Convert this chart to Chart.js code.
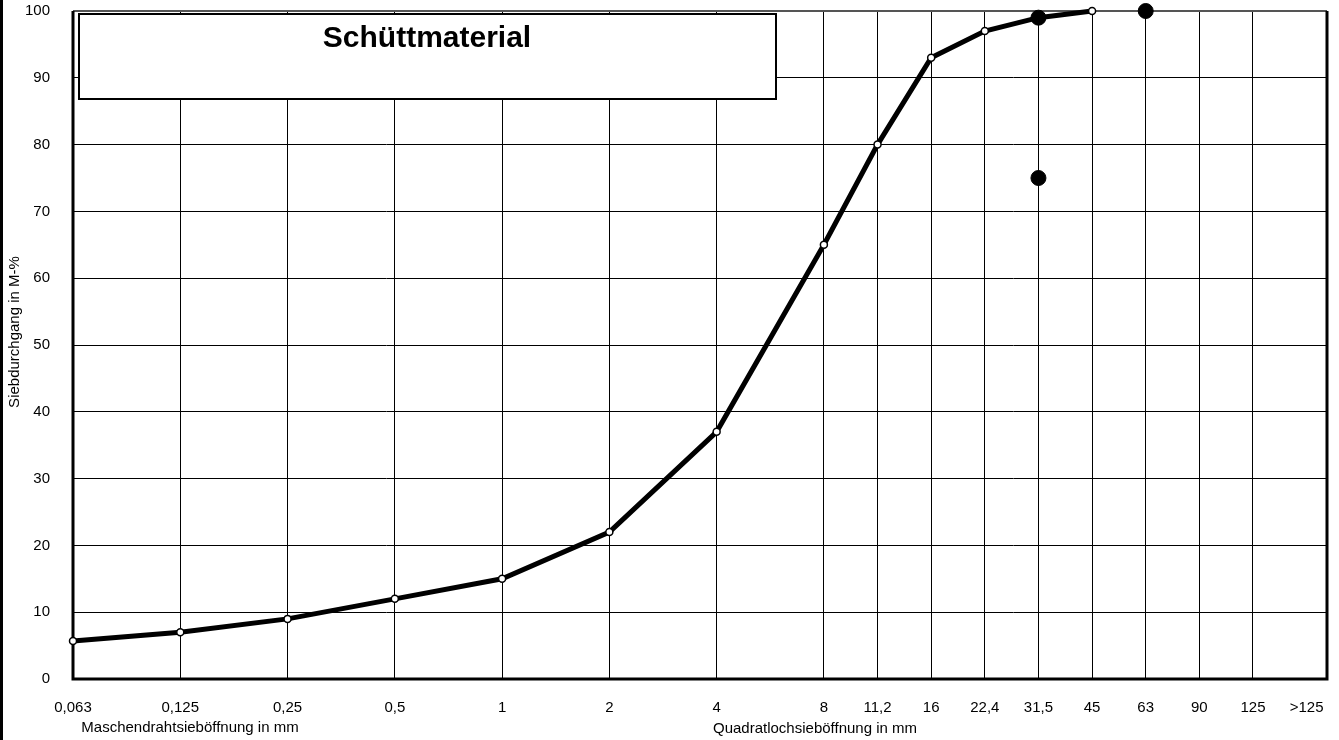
<!DOCTYPE html>
<html>
<head>
<meta charset="utf-8">
<script src="https://cdn.jsdelivr.net/npm/chart.js@4"></script>
<style>
  html, body { margin: 0; padding: 0; background: #fff; }
  #wrap { width: 1339px; height: 740px; }
</style>
</head>
<body>
<div id="wrap"><canvas id="siebChart"></canvas></div>
<script>
// sieve sizes (mm) and their place on the grading axis
const sieveLabels = ['0,063', '0,125', '0,25', '0,5', '1', '2', '4', '8', '11,2', '16', '22,4', '31,5', '45', '63', '90', '125', '>125'];
const sieveSteps = [0, 2, 4, 6, 8, 10, 12, 14, 15, 16, 17, 18, 19, 20, 21, 22, 23];
// passing in M-% for the first sieves
const passing = [5.7, 7, 9, 12, 15, 22, 37, 65, 80, 93, 97, 99, 100];
// single black marks
const markSieves = ['31,5', '31,5', '63'];
const markValues = [99, 75, 100];

const stepOf = s => sieveSteps[sieveLabels.indexOf(s)];
const lineData = passing.map((v, i) => ({ x: sieveSteps[i], y: v }));
const markData = markSieves.map((s, i) => ({ x: stepOf(s), y: markValues[i] }));

const FONT = 'Arial, "Liberation Sans", sans-serif';

const frame = {
  id: 'frame',
  beforeDatasetsDraw(chart) {
    const { ctx, chartArea: a } = chart;
    ctx.save();
    ctx.strokeStyle = '#555';
    ctx.lineWidth = 2;
    ctx.beginPath();
    ctx.moveTo(a.left, a.top);
    ctx.lineTo(a.right, a.top);
    ctx.stroke();
    ctx.strokeStyle = '#000';
    ctx.lineWidth = 3;
    ctx.beginPath();
    ctx.moveTo(a.left, a.top);
    ctx.lineTo(a.left, a.bottom);
    ctx.lineTo(a.right, a.bottom);
    ctx.lineTo(a.right, a.top);
    ctx.stroke();
    // title box
    ctx.fillStyle = '#fff';
    ctx.fillRect(79, 14, 697, 85);
    ctx.lineWidth = 2;
    ctx.strokeRect(79, 14, 697, 85);
    ctx.fillStyle = '#000';
    ctx.font = 'bold 30px ' + FONT;
    ctx.textAlign = 'center';
    ctx.textBaseline = 'alphabetic';
    ctx.fillText('Schüttmaterial', 427, 47);
    ctx.restore();
  },
  afterDraw(chart) {
    const { ctx } = chart;
    ctx.save();
    ctx.fillStyle = '#000';
    ctx.fillRect(0, 0, 3, 740);
    ctx.font = '15px ' + FONT;
    ctx.textAlign = 'center';
    ctx.textBaseline = 'middle';
    ctx.fillText('Maschendrahtsieböffnung in mm', 190, 728);
    ctx.fillText('Quadratlochsieböffnung in mm', 815, 729);
    ctx.translate(15, 332);
    ctx.rotate(-Math.PI / 2);
    ctx.fillText('Siebdurchgang in M-%', 0, 0);
    ctx.restore();
  }
};

new Chart(document.getElementById('siebChart'), {
  type: 'scatter',
  data: {
    datasets: [{
      data: markData,
      backgroundColor: '#000',
      borderColor: '#000',
      pointRadius: 7.5,
      showLine: false,
      clip: false
    }, {
      data: lineData,
      showLine: true,
      borderColor: '#000',
      borderWidth: 5,
      pointRadius: 3.5,
      pointBorderWidth: 1.5,
      pointBackgroundColor: '#fff',
      pointBorderColor: '#000',
      clip: false
    }]
  },
  options: {
    responsive: true,
    maintainAspectRatio: false,
    animation: false,
    layout: { padding: { top: 11, right: 12, left: 0, bottom: 0 } },
    plugins: { legend: { display: false }, tooltip: { enabled: false } },
    scales: {
      x: {
        type: 'linear',
        min: 0,
        max: 23.38,
        afterBuildTicks: axis => { axis.ticks = sieveSteps.map(v => ({ value: v })); },
        afterFit: axis => {
          axis.height = 61;
          axis.paddingLeft = 0;
          axis.paddingRight = 0;
        },
        ticks: {
          autoSkip: false,
          maxRotation: 0,
          padding: 20,
          color: '#000',
          font: { family: FONT, size: 15 },
          callback: v => sieveLabels[sieveSteps.indexOf(v)]
        },
        grid: {
          drawTicks: false,
          color: c => (c.tick && c.tick.value === 23 ? 'rgba(0,0,0,0)' : '#000'),
          lineWidth: 1
        },
        border: { display: false }
      },
      y: {
        min: 0,
        max: 100,
        afterFit: axis => {
          axis.width = 73;
          axis.paddingTop = 0;
          axis.paddingBottom = 0;
        },
        ticks: {
          stepSize: 10,
          padding: 23,
          color: '#000',
          font: { family: FONT, size: 15 }
        },
        grid: { drawTicks: false, color: '#000', lineWidth: 1 },
        border: { display: false }
      }
    }
  },
  plugins: [frame]
});
</script>
</body>
</html>
